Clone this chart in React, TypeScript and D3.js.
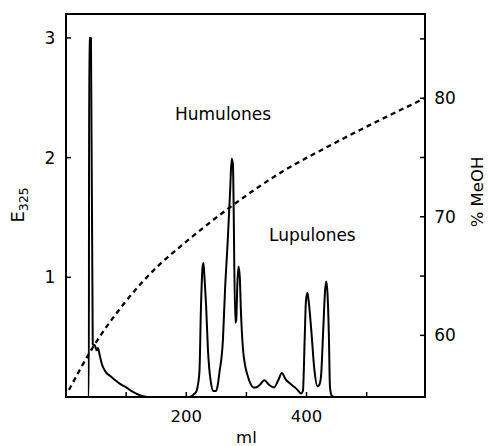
import React from 'react';
import * as d3 from 'd3';

const W = 488;
const H = 446;
const margin = { left: 66, right: 63, top: 14, bottom: 49 };

// elution profile: [ml, E325]
const elution: [number, number][] = [
  [0, 0], [38, 0], [38.5, 3.0], [41.5, 3.0], [44.5, 0.44], [48, 0.43], [51, 0.39], [53, 0.41],
  [56, 0.35], [60, 0.27], [66, 0.21], [75, 0.17], [82, 0.14], [90, 0.11], [100, 0.08],
  [112, 0.04], [125, 0.01], [135, 0], [205, 0], [212, 0.02], [217, 0.05], [220, 0.12],
  [222, 0.22], [224.5, 0.76], [227, 1.08], [228.5, 1.12], [230, 1.02], [233, 0.76],
  [236, 0.4], [238, 0.25], [241, 0.12], [245, 0.05], [249, 0.05], [252, 0.09], [255, 0.2],
  [261, 0.48], [264.5, 0.9], [269, 1.31], [273, 1.73], [275.5, 1.99], [277.5, 1.95],
  [281.5, 0.62], [283, 0.64], [285, 0.95], [287, 1.09], [289, 1.0], [291, 0.7], [294, 0.42],
  [298, 0.26], [302, 0.18], [306, 0.12], [312, 0.08], [316, 0.08], [322, 0.1], [330, 0.14],
  [338, 0.1], [346, 0.08], [353, 0.14], [359, 0.2], [365, 0.15], [373, 0.11], [383, 0.07],
  [391, 0.03], [394, 0.05], [397, 0.5], [399, 0.8], [401.5, 0.87], [404, 0.78], [408, 0.55],
  [413, 0.23], [418, 0.09], [421, 0.1], [424, 0.17], [428, 0.59], [431, 0.9], [433, 0.965],
  [435, 0.85], [437, 0.55], [439, 0.08], [442, 0.01], [446, 0], [597, 0],
];

// methanol gradient: [ml, % MeOH]
const gradient: [number, number][] = [
  [5, 55.4], [40, 58.6], [100, 62.9], [150, 65.7], [200, 67.9], [270, 70.7],
  [350, 73.5], [450, 76.3], [597, 80],
];

const xTicks = [100, 200, 300, 400, 500];
const xLabels = [200, 400];
const eTicks = [1, 2, 3];
const meohTicks = [60, 65, 70, 75, 80, 85];
const meohLabels = [60, 70, 80];

export default function App() {
  const x = d3.scaleLinear().domain([0, 597]).range([margin.left, W - margin.right]);
  const yE = d3.scaleLinear().domain([0, 3.2]).range([H - margin.bottom, margin.top]);
  const yM = d3.scaleLinear().domain([54.8, 87.1]).range([H - margin.bottom, margin.top]);

  const lineE = d3.line<[number, number]>()
    .x(d => x(d[0]))
    .y(d => yE(d[1]))
    .curve(d3.curveMonotoneX);
  const lineM = d3.line<[number, number]>()
    .x(d => x(d[0]))
    .y(d => yM(d[1]))
    .curve(d3.curveMonotoneX);

  const x0 = margin.left, x1 = W - margin.right;
  const y0 = H - margin.bottom, y1 = margin.top;
  const font = '"DejaVu Sans", sans-serif';

  return (
    <svg width={W} height={H} style={{ position: 'absolute', left: 0, top: 0 }} fontFamily={font}>
      <rect width={W} height={H} fill="#fff" />
      <path d={lineM(gradient) ?? ''} fill="none" stroke="#000" strokeWidth={2.3} strokeDasharray="5 4" />
      <path d={lineE(elution) ?? ''} fill="none" stroke="#000" strokeWidth={2} strokeLinejoin="round" />
      <rect x={x0} y={y1} width={x1 - x0} height={y0 - y1} fill="none" stroke="#000" strokeWidth={2} />

      {xTicks.map(t => (
        <line key={t} x1={x(t)} x2={x(t)} y1={y0} y2={y0 - 5} stroke="#000" strokeWidth={1.5} />
      ))}
      {xLabels.map(t => (
        <text key={t} x={x(t)} y={422} textAnchor="middle" fontSize={16.5}>{t}</text>
      ))}
      <text x={x(300)} y={443} textAnchor="middle" fontSize={16.5}>ml</text>

      {eTicks.map(t => (
        <g key={t}>
          <line x1={x0} x2={x0 + 5} y1={yE(t)} y2={yE(t)} stroke="#000" strokeWidth={1.5} />
          <text x={50} y={yE(t) + 6} textAnchor="middle" fontSize={17}>{t}</text>
        </g>
      ))}
      <text transform={`translate(24,205) rotate(-90)`} textAnchor="middle" fontSize={18}>
        E<tspan fontSize={12.5} dy={4}>325</tspan>
      </text>

      {meohTicks.map(t => (
        <line key={t} x1={x1} x2={x1 - 5} y1={yM(t)} y2={yM(t)} stroke="#000" strokeWidth={1.5} />
      ))}
      {meohLabels.map(t => (
        <text key={t} x={445} y={yM(t) + 6} textAnchor="middle" fontSize={17}>{t}</text>
      ))}
      <text transform={`translate(483,192) rotate(-90)`} textAnchor="middle" fontSize={16.5}>% MeOH</text>

      <text x={175} y={120} fontSize={17}>Humulones</text>
      <text x={269} y={241} fontSize={17}>Lupulones</text>
    </svg>
  );
}
